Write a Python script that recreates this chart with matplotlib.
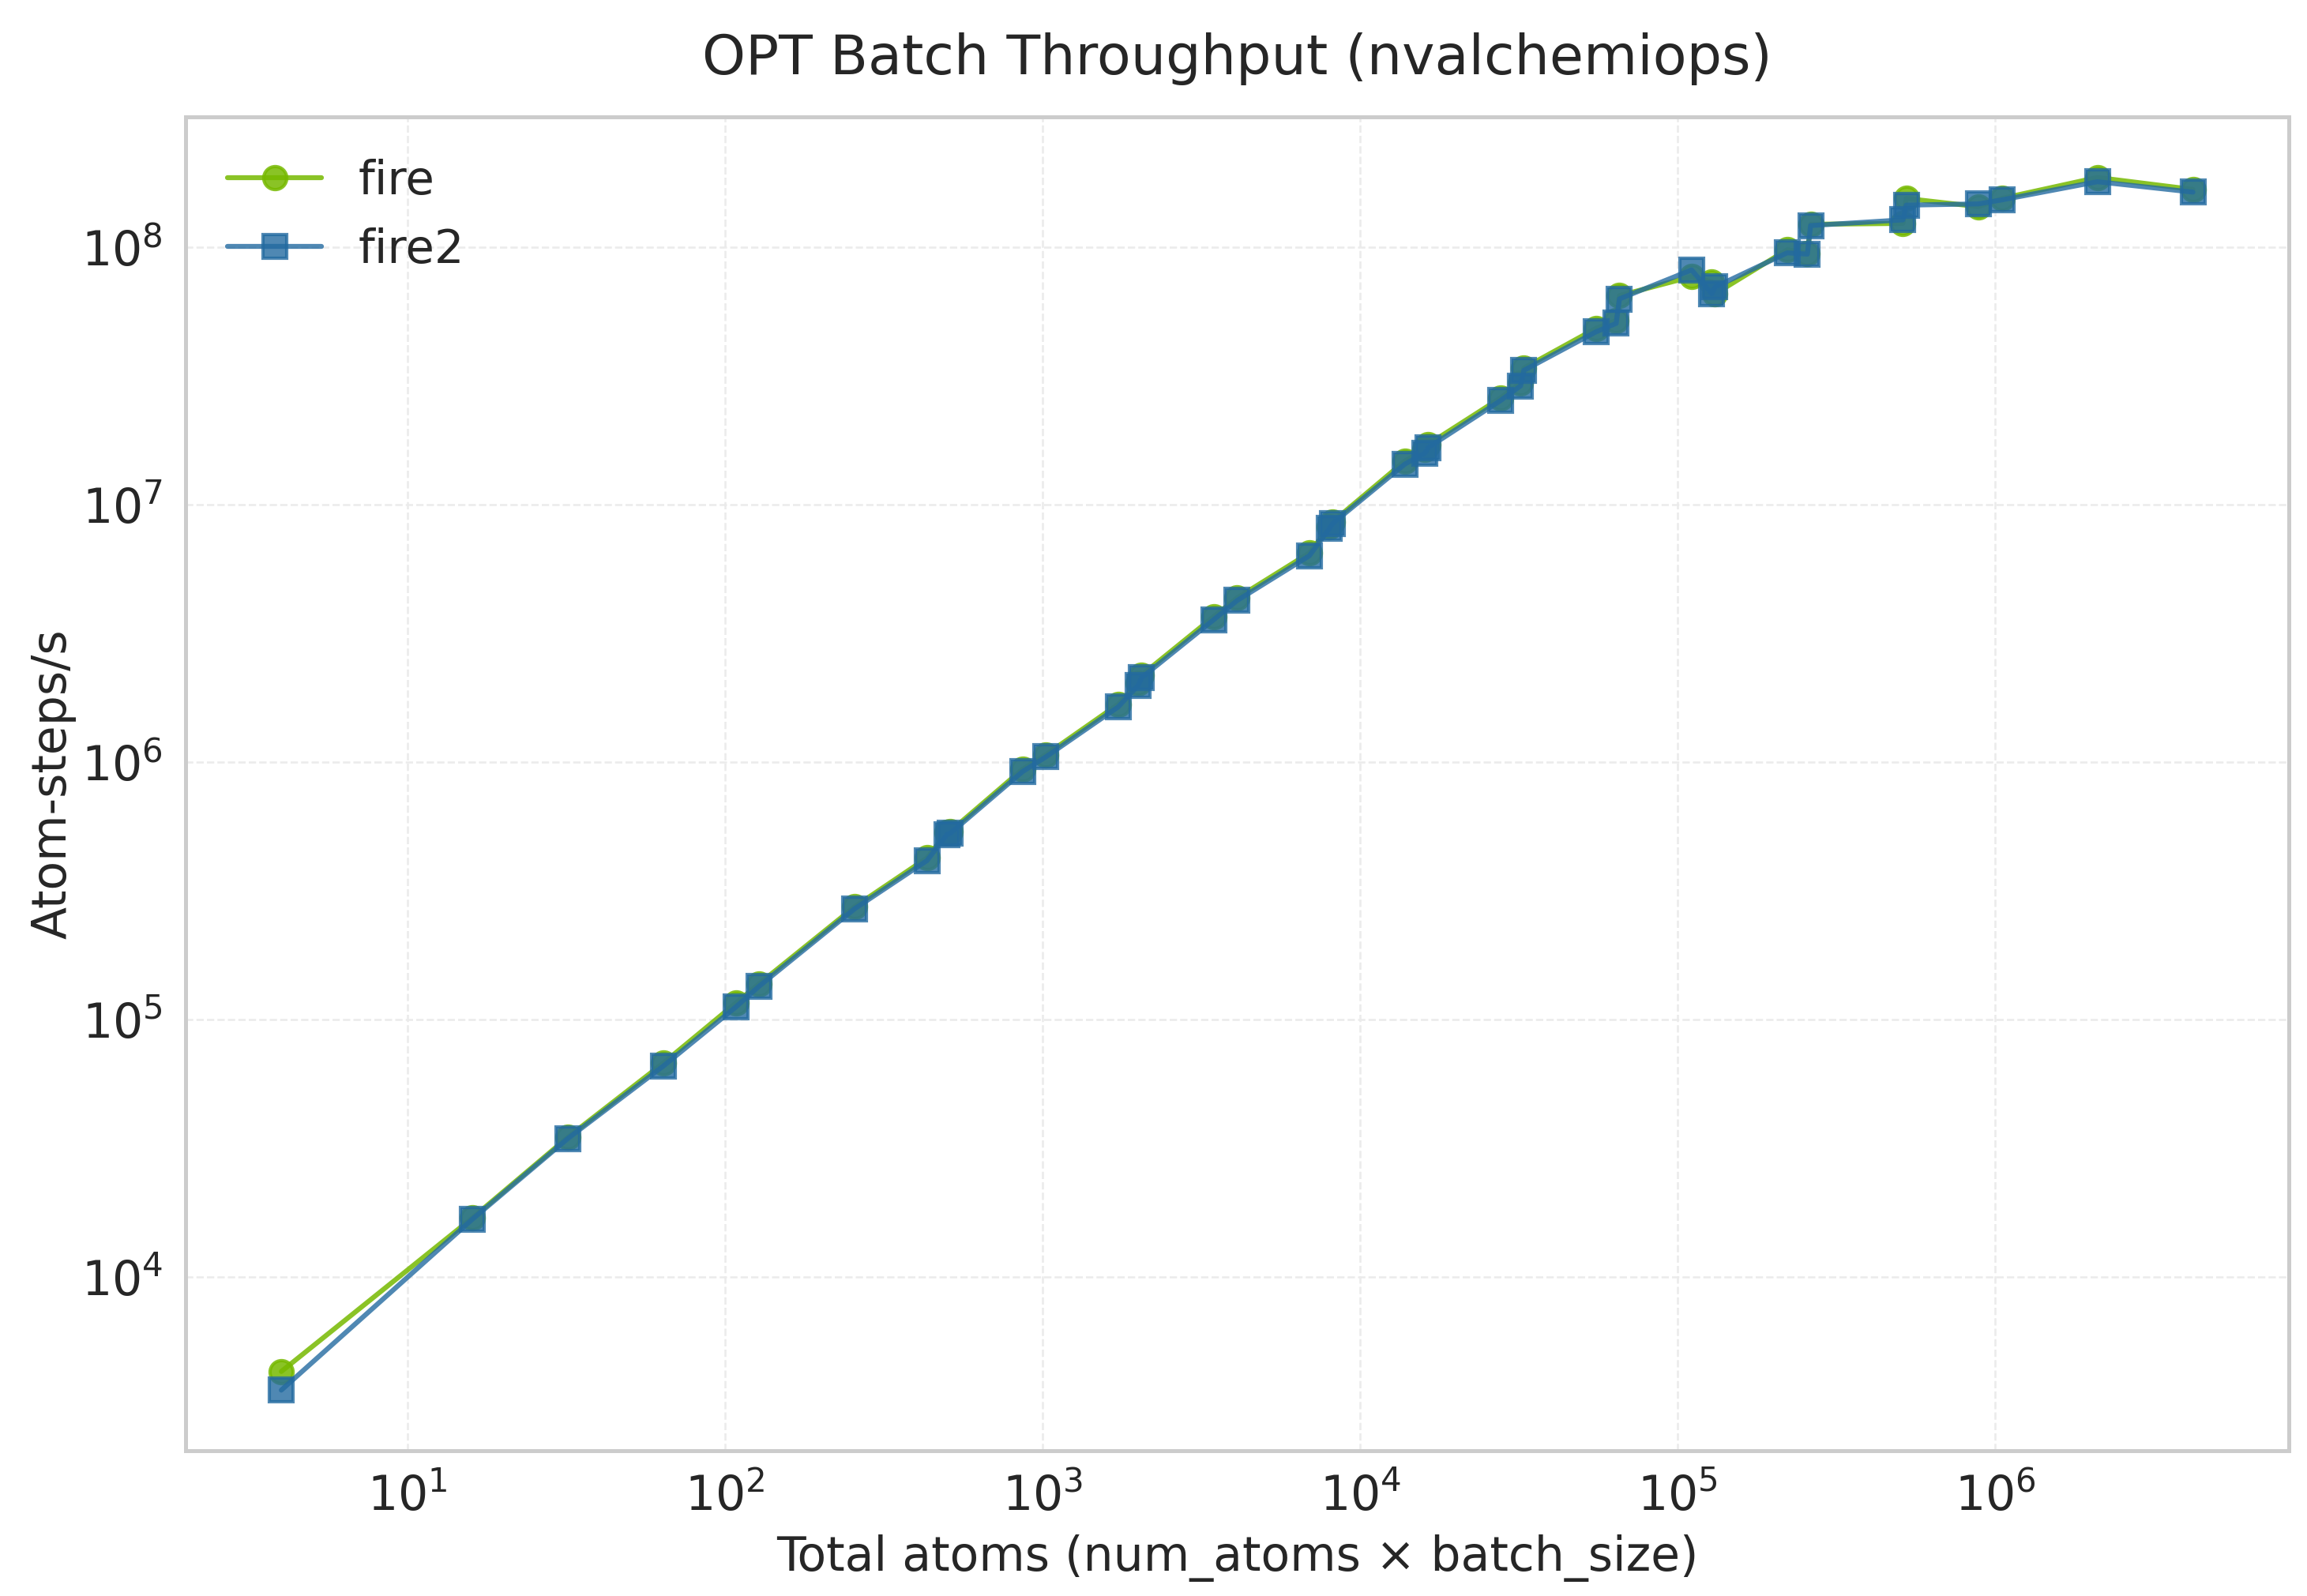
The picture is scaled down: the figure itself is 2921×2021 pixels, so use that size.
import matplotlib
matplotlib.use("Agg")
import matplotlib.pyplot as plt
import seaborn as sns

# total atoms (num_atoms x batch_size)
total_atoms = [4, 16, 32, 64, 108, 128, 256, 432, 500, 512, 864, 1024,
               1728, 2000, 2048, 3456, 4096, 6912, 8000, 8192, 13824,
               16000, 16384, 27648, 32000, 32768, 55296, 64000, 65536,
               110592, 128000, 131072, 221184, 256000, 262144, 512000,
               524288, 884736, 1048576, 2097152, 4194304]

# atom-steps per second
fire_tput = [4.3e3, 1.70e4, 3.50e4, 6.8e4, 1.16e5, 1.38e5, 2.75e5, 4.25e5,
             5.35e5, 5.40e5, 9.4e5, 1.07e6, 1.68e6, 2.03e6, 2.18e6, 3.68e6,
             4.35e6, 6.5e6, 8.2e6, 8.6e6, 1.48e7, 1.64e7, 1.72e7, 2.60e7,
             2.98e7, 3.40e7, 4.85e7, 5.20e7, 6.50e7, 7.7e7, 7.36e7, 6.6e7,
             9.8e7, 9.5e7, 1.23e8, 1.24e8, 1.55e8, 1.44e8, 1.55e8, 1.87e8,
             1.68e8]

fire2_tput = [3.64e3, 1.68e4, 3.46e4, 6.62e4, 1.12e5, 1.35e5, 2.70e5, 4.15e5,
              5.25e5, 5.30e5, 9.2e5, 1.05e6, 1.64e6, 1.99e6, 2.13e6, 3.58e6,
              4.25e6, 6.34e6, 8.09e6, 8.47e6, 1.44e7, 1.59e7, 1.67e7, 2.54e7,
              2.90e7, 3.33e7, 4.70e7, 5.07e7, 6.31e7, 8.18e7, 6.61e7, 7.02e7,
              9.53e7, 9.42e7, 1.216e8, 1.28e8, 1.46e8, 1.476e8, 1.53e8,
              1.80e8, 1.64e8]

sns.set_style("whitegrid")
plt.rcParams['font.family'] = ['DejaVu Sans']

fig = plt.figure(figsize=(2921 / 300, 2021 / 300), dpi=300)
ax = fig.add_axes([0.0805, 0.091, 0.9115, 0.8358])

ax.plot(total_atoms, fire_tput, marker='o', color='#76b900', label='fire',
        linewidth=1.5, markersize=7, alpha=0.85)
ax.plot(total_atoms, fire2_tput, marker='s', color='#236aa0', label='fire2',
        linewidth=1.5, markersize=7, alpha=0.8)

ax.set_xscale('log')
ax.set_yscale('log')
ax.set_xlabel('Total atoms (num_atoms × batch_size)', fontsize=14.4)
ax.set_ylabel('Atom-steps/s', fontsize=14.4)
ax.yaxis.set_label_coords(-0.052, 0.5)
ax.set_title('OPT Batch Throughput (nvalchemiops)', fontsize=16.8, pad=13)
ax.tick_params(axis='both', labelsize=14.4)
ax.grid(True, which='major', linestyle='--', linewidth=0.6, color='#ebebeb')
for s in ax.spines.values():
    s.set_color('#cccccc')
    s.set_linewidth(1.2)
ax.legend(loc='upper left', fontsize=14.2, frameon=False)

fig.savefig('out.png', dpi=300)
